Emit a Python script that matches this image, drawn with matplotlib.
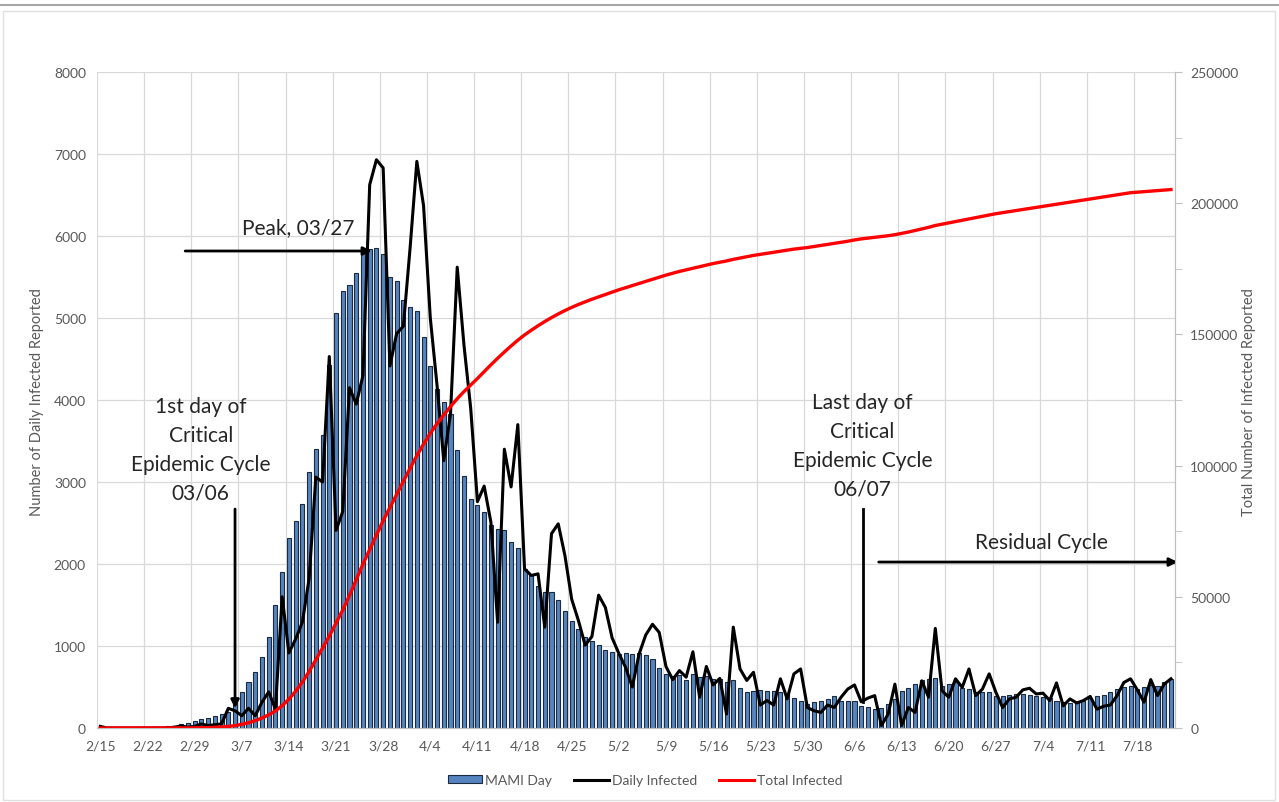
import numpy as np
import matplotlib
matplotlib.use("Agg")
import matplotlib.pyplot as plt
from matplotlib.patches import Patch, Rectangle
from matplotlib.lines import Line2D

plt.rcParams['font.family'] = ['Lato', 'DejaVu Sans']

# day 0 = 2/15 (2020), one value per day up to 7/23
mami_day = [
    0, 0, 0, 0, 0, 0, 0, 0, 10, 15,
    20, 30, 45, 60, 90, 110, 125, 150, 170, 200,
    310, 440, 560, 680, 870, 1110, 1500, 1900, 2320, 2520,
    2730, 3120, 3400, 3570, 4430, 5060, 5330, 5400, 5550, 5820,
    5840, 5850, 5780, 5500, 5450, 5220, 5130, 5090, 4770, 4420,
    4130, 3970, 3830, 3390, 3070, 2790, 2720, 2630, 2475, 2425,
    2420, 2270, 2195, 1940, 1860, 1735, 1660, 1660, 1560, 1425,
    1300, 1210, 1115, 1065, 1010, 950, 925, 900, 910, 900,
    910, 885, 845, 730, 655, 640, 650, 580, 660, 620,
    640, 595, 600, 560, 580, 490, 440, 455, 460, 455,
    450, 440, 415, 365, 335, 295, 315, 325, 355, 390,
    335, 325, 330, 270, 260, 230, 250, 290, 355, 450,
    490, 540, 585, 600, 610, 515, 540, 560, 490, 480,
    440, 440, 440, 395, 395, 405, 410, 420, 400, 395,
    375, 360, 335, 315, 310, 320, 335, 360, 395, 405,
    445, 480, 500, 510, 480, 500, 530, 510, 560, 600,
]

daily_infected = [
    20, 0, 0, 0, 0, 0, 0, 0, 0, 0,
    2, 10, 25, 10, 20, 50, 30, 40, 50, 240,
    210, 150, 240, 150, 315, 440, 230, 1600, 915, 1085,
    1290, 1820, 3060, 3000, 4530, 2410, 2640, 4150, 3950, 4300,
    6625, 6930, 6830, 4415, 4810, 4900, 5855, 6910, 6370, 5000,
    4180, 3260, 3830, 5620, 4670, 3900, 2760, 2950, 2510, 1290,
    3400, 2940, 3700, 1940, 1860, 1880, 1230, 2370, 2490, 2100,
    1570, 1310, 1010, 1115, 1620, 1470, 1100, 910, 740, 500,
    900, 1135, 1265, 1165, 750, 590, 700, 620, 930, 375,
    750, 525, 605, 170, 1230, 720, 580, 680, 280, 335,
    280, 600, 355, 660, 720, 250, 210, 190, 280, 250,
    375, 475, 525, 320, 365, 395, 30, 170, 535, 30,
    250, 190, 575, 375, 1215, 455, 375, 600, 495, 720,
    395, 475, 660, 435, 250, 355, 375, 465, 485, 415,
    425, 335, 550, 270, 355, 305, 335, 385, 230, 265,
    280, 395, 555, 600, 465, 315, 590, 395, 535, 600,
]

total_infected = [
    16, 16, 16, 16, 16, 16, 16, 16, 16, 16,
    16, 17, 27, 46, 48, 100, 150, 250, 400, 600,
    900, 1400, 2000, 2800, 3800, 5000, 6500, 8500, 11000, 14000,
    17500, 21500, 26000, 30500, 35000, 40000, 45000, 50500, 56500, 62500,
    68000, 73500, 79000, 84000, 89000, 94000, 99000, 103800, 108200, 112300,
    116000, 119300, 122500, 125500, 128200, 130700, 133200, 135800, 138400, 140900,
    143300, 145600, 147800, 149800, 151600, 153300, 154900, 156400, 157800, 159100,
    160300, 161400, 162400, 163400, 164300, 165200, 166100, 167000, 167800, 168600,
    169400, 170200, 171000, 171800, 172600, 173300, 174000, 174600, 175200, 175800,
    176400, 177000, 177500, 178000, 178600, 179100, 179600, 180100, 180500, 180900,
    181300, 181700, 182100, 182500, 182800, 183100, 183500, 183900, 184300, 184700,
    185100, 185500, 186000, 186400, 186700, 187000, 187300, 187600, 188000, 188500,
    189000, 189600, 190200, 190800, 191500, 192000, 192500, 193000, 193500, 194000,
    194500, 195000, 195500, 196000, 196400, 196800, 197200, 197600, 198000, 198400,
    198800, 199200, 199600, 200000, 200400, 200800, 201200, 201600, 202000, 202400,
    202800, 203200, 203600, 204000, 204200, 204400, 204600, 204800, 205000, 205200,
]

week_labels = ['2/15', '2/22', '2/29', '3/7', '3/14', '3/21', '3/28', '4/4', '4/11',
               '4/18', '4/25', '5/2', '5/9', '5/16', '5/23', '5/30', '6/6', '6/13',
               '6/20', '6/27', '7/4', '7/11', '7/18']

days = np.arange(len(mami_day))
grey = '#595959'
bar_fill = '#5584bf'
bar_edge = '#1c2a40'

fig = plt.figure(figsize=(12.79, 8.03), dpi=100)
ax = fig.add_axes([97 / 1279, 74 / 803, 1078 / 1279, 656 / 803])
ax2 = ax.twinx()

ax.bar(days, mami_day, width=0.6, color=bar_fill, edgecolor=bar_edge,
       linewidth=0.8, zorder=2)
ax.plot(days, daily_infected, color='black', lw=2.2, zorder=3)
ax2.plot(days, total_infected, color='#ff0000', lw=2.4, zorder=3)

ax.set_xlim(-0.5, 159.6)
ax.set_ylim(0, 8000)
ax2.set_ylim(0, 250000)

ax.set_xticks(np.arange(0, 7 * len(week_labels), 7))
ax.set_xticklabels(week_labels)
ax.set_xticks(np.arange(-0.5, 160, 7), minor=True)
ax.set_yticks(np.arange(0, 8001, 1000))
ax.tick_params(axis='x', which='both', length=0, labelsize=10, colors=grey, pad=8)
ax.tick_params(axis='y', length=0, labelsize=10, colors=grey, pad=8)
ax.grid(True, which='minor', axis='x', color='#d9d9d9', lw=0.9)
ax.grid(True, which='major', axis='y', color='#d9d9d9', lw=0.9)
ax.set_axisbelow(True)

ax2.set_yticks(np.arange(0, 250001, 50000))
ax2.set_yticks(np.arange(0, 250001, 25000), minor=True)
ax2.tick_params(axis='y', which='both', length=5, color='#bfbfbf', labelsize=10,
                labelcolor=grey, pad=6)

for a in (ax, ax2):
    for s in ('top', 'left'):
        a.spines[s].set_visible(False)
    a.spines['bottom'].set_color('#bfbfbf')
    a.spines['right'].set_color('#bfbfbf')

# annotations
txt = dict(fontsize=15, color='#262626', ha='center', va='center', linespacing=1.55)
arr = dict(arrowstyle='-|>', color='black', lw=2, mutation_scale=12, shrinkA=0, shrinkB=0)

ax.text(29.4, 6110, 'Peak, 03/27', **txt)
ax.annotate('', xy=(40.3, 5817), xytext=(12.6, 5817), arrowprops=arr)

ax.text(14.9, 3400, '1st day of\nCritical\nEpidemic Cycle\n03/06', **txt)
ax.annotate('', xy=(20, 240), xytext=(20, 2670), arrowprops=arr)

ax.text(113.2, 3445, 'Last day of\nCritical\nEpidemic Cycle\n06/07', **txt)
ax.plot([113.2, 113.2], [2670, 320], color='black', lw=2, zorder=4)

ax.text(139.8, 2268, 'Residual Cycle', **txt)
ax.annotate('', xy=(160.0, 2024), xytext=(115.6, 2024), arrowprops=arr,
            annotation_clip=False)

fig.text(37 / 1279, 1 - 402 / 803, 'Number of Daily Infected Reported', rotation=90,
         ha='center', va='center', fontsize=10.5, color=grey)
fig.text(1249 / 1279, 1 - 402 / 803, 'Total Number of Infected Reported', rotation=90,
         ha='center', va='center', fontsize=10.5, color=grey)

handles = [Patch(facecolor=bar_fill, edgecolor=bar_edge, lw=0.8),
           Line2D([], [], color='black', lw=2.2),
           Line2D([], [], color='#ff0000', lw=2.2)]
fig.legend(handles, ['MAMI Day', 'Daily Infected', 'Total Infected'], loc='center',
           bbox_to_anchor=(645 / 1279, 1 - 781 / 803), ncol=3, frameon=False,
           fontsize=10, labelcolor=grey, handlelength=2.5, handleheight=0.45,
           handletextpad=0.2, columnspacing=1.6)

# frame around the chart
fig.add_artist(Line2D([0, 1], [1 - 6 / 803] * 2, color='#a6a6a6', lw=1.5,
                      transform=fig.transFigure))
fig.add_artist(Rectangle((3 / 1279, 2 / 803), 1272 / 1279, 1 - 14 / 803, fill=False,
                         edgecolor='#e0e0e0', lw=1, transform=fig.transFigure))

fig.savefig('out.png', dpi=100)
